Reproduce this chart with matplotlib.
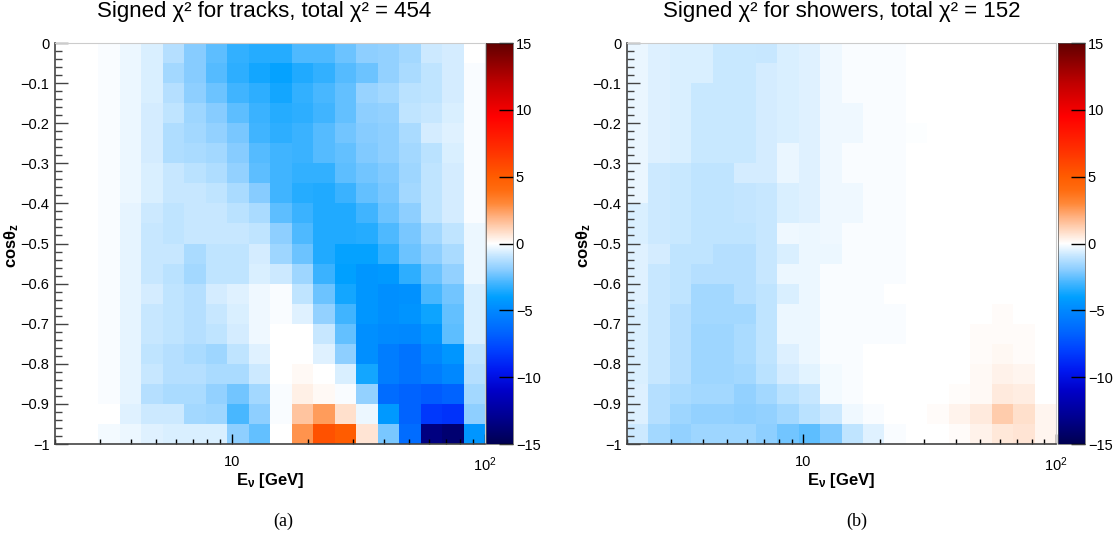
import numpy as np
import matplotlib
matplotlib.use("Agg")
import matplotlib.pyplot as plt
import matplotlib.ticker as ticker
from matplotlib.colors import LinearSegmentedColormap, Normalize

plt.rcParams["font.family"] = ["Liberation Sans", "DejaVu Sans"]
plt.rcParams["mathtext.fontset"] = "custom"
plt.rcParams["mathtext.rm"] = "Liberation Sans"
plt.rcParams["mathtext.it"] = "Liberation Sans:italic"
plt.rcParams["mathtext.bf"] = "Liberation Sans:bold"

# binning: 20 log bins in E (2-100 GeV), 20 bins in cos(theta_z) from 0 down to -1
E_EDGES = np.logspace(np.log10(2.0), 2.0, 21)
COS_EDGES = np.linspace(0.0, -1.0, 21)

TITLES = ["Signed \u03c7\u00b2 for tracks, total \u03c7\u00b2 = 454",
          "Signed \u03c7\u00b2 for showers, total \u03c7\u00b2 = 152"]
CAPTIONS = ["(a)", "(b)"]
CBAR_TICKS = [-15, -10, -5, 0, 5, 10, 15]

# signed chi2 per bin, rows from cos=0 (top) to cos=-1 (bottom)
TRACKS = [
    [0, 0, -0.1, -0.3, -0.6, -1.2, -2.0, -2.6, -3.2, -3.4, -3.4, -2.8, -2.8, -2.4, -1.9, -1.8, -1.5, -0.8, -0.7, 0],
    [0, 0, -0.1, -0.3, -0.6, -1.5, -2.0, -2.7, -3.3, -3.7, -3.9, -3.5, -3.2, -2.7, -2.4, -1.8, -1.4, -1.0, -0.7, -0.1],
    [0, 0, -0.1, -0.3, -0.6, -1.2, -1.9, -2.4, -3.0, -3.3, -3.7, -3.2, -2.9, -2.5, -1.7, -1.5, -1.1, -1.0, -0.7, -0.1],
    [0, 0, -0.1, -0.3, -0.7, -1.0, -1.6, -2.0, -2.6, -3.1, -3.4, -3.3, -3.0, -2.5, -1.9, -1.8, -1.0, -0.9, -0.6, -0.1],
    [0, 0, -0.1, -0.3, -0.7, -1.3, -1.5, -1.8, -2.2, -3.0, -3.3, -3.1, -2.7, -2.3, -2.0, -1.9, -1.4, -0.7, -0.5, -0.1],
    [0, 0, -0.1, -0.3, -0.7, -1.3, -1.4, -1.5, -2.0, -2.7, -3.0, -3.1, -2.7, -2.5, -2.1, -1.9, -1.5, -1.1, -0.6, -0.1],
    [0, 0, -0.1, -0.3, -0.6, -0.9, -1.1, -1.3, -1.8, -2.6, -3.0, -3.2, -3.2, -2.6, -2.3, -2.1, -1.6, -1.0, -0.7, -0.1],
    [0, 0, -0.1, -0.3, -0.6, -0.9, -0.9, -1.0, -1.4, -2.0, -3.0, -3.4, -3.5, -3.1, -2.5, -2.2, -1.5, -1.0, -0.7, -0.1],
    [0, 0, -0.1, -0.4, -0.8, -1.0, -0.9, -0.9, -1.1, -1.4, -2.6, -3.1, -3.5, -3.5, -3.0, -2.4, -1.9, -1.0, -0.7, -0.1],
    [0, 0, -0.1, -0.4, -0.9, -1.0, -0.9, -0.9, -0.9, -1.0, -1.9, -2.8, -3.5, -3.5, -3.4, -2.8, -2.2, -1.5, -1.0, -0.3],
    [0, 0, -0.1, -0.4, -0.9, -0.9, -1.4, -1.0, -1.0, -0.7, -1.6, -2.4, -3.5, -3.9, -3.9, -3.2, -2.4, -1.9, -1.4, -0.3],
    [0, 0, -0.1, -0.4, -0.9, -1.1, -1.5, -1.0, -1.0, -0.6, -0.8, -1.6, -3.1, -4.0, -4.4, -4.3, -3.3, -2.4, -1.8, -0.3],
    [0, 0, -0.1, -0.4, -0.7, -1.0, -1.2, -0.7, -0.5, -0.25, -0.1, -1.0, -2.4, -3.7, -4.4, -4.7, -4.6, -2.9, -2.3, -0.6],
    [0, 0, -0.1, -0.4, -0.9, -1.0, -1.2, -0.9, -0.6, -0.25, -0.1, -0.5, -1.8, -3.0, -4.4, -4.7, -4.5, -3.8, -2.5, -0.6],
    [0, 0, -0.1, -0.4, -0.9, -1.0, -1.2, -1.0, -0.7, -0.25, 0, 0, -0.9, -2.5, -4.7, -4.9, -5.0, -4.4, -2.6, -0.6],
    [0, 0, -0.1, -0.4, -1.0, -1.2, -1.4, -1.6, -1.0, -0.5, 0, 0, -0.5, -1.9, -4.7, -5.5, -6.0, -5.0, -4.4, -1.0],
    [0, 0, -0.1, -0.4, -0.9, -1.2, -1.2, -1.4, -1.4, -0.8, 0, 0.15, 0, -0.6, -3.7, -5.5, -6.0, -5.5, -5.0, -1.2],
    [0, 0, -0.1, -0.4, -1.2, -1.4, -1.4, -1.8, -2.3, -1.5, -0.1, 0.4, 0.15, -0.1, -1.8, -6.3, -6.7, -7.0, -6.7, -1.5],
    [0, 0, 0, -0.5, -0.8, -0.8, -1.5, -1.6, -2.9, -1.9, -0.1, 1.5, 2.5, 0.8, -0.3, -4.3, -6.7, -8.3, -8.5, -1.9],
    [0, 0, -0.2, -0.3, -0.5, -0.6, -0.6, -0.6, -1.9, -2.5, 0, 2.7, 5.5, 5.0, 0.7, -2.2, -6.3, -13.5, -14.0, -4.4],
]

SHOWERS = [
    [-0.35, -0.55, -0.6, -0.6, -0.85, -0.85, -0.9, -0.6, -0.5, -0.25, -0.1, -0.1, -0.1, 0, 0, 0, 0, 0, 0, 0],
    [-0.35, -0.55, -0.6, -0.6, -0.85, -0.85, -0.7, -0.6, -0.5, -0.25, -0.1, -0.1, -0.1, 0, 0, 0, 0, 0, 0, 0],
    [-0.35, -0.55, -0.6, -0.85, -0.85, -0.85, -0.7, -0.6, -0.5, -0.25, -0.1, -0.1, -0.1, 0, 0, 0, 0, 0, 0, 0],
    [-0.35, -0.55, -0.6, -0.85, -0.85, -0.85, -0.7, -0.6, -0.5, -0.25, -0.25, -0.1, -0.1, 0, 0, 0, 0, 0, 0, 0],
    [-0.35, -0.55, -0.6, -0.85, -0.85, -0.85, -0.7, -0.6, -0.5, -0.25, -0.25, -0.1, -0.1, -0.05, 0, 0, 0, 0, 0, 0],
    [-0.35, -0.55, -0.6, -0.85, -0.85, -0.85, -0.7, -0.35, -0.5, -0.25, -0.1, -0.1, -0.1, 0, 0, 0, 0, 0, 0, 0],
    [-0.35, -0.8, -0.85, -1.0, -1.0, -0.7, -0.7, -0.35, -0.5, -0.25, -0.1, -0.1, -0.1, 0, 0, 0, 0, 0, 0, 0],
    [-0.35, -0.8, -0.85, -1.0, -1.0, -0.95, -0.9, -0.6, -0.5, -0.25, -0.25, -0.1, -0.1, 0, 0, 0, 0, 0, 0, 0],
    [-0.6, -0.8, -0.85, -1.0, -1.0, -0.95, -0.9, -0.6, -0.5, -0.25, -0.25, -0.1, -0.1, 0, 0, 0, 0, 0, 0, 0],
    [-0.6, -0.8, -0.85, -1.0, -1.0, -1.0, -0.9, -0.25, -0.3, -0.25, -0.1, -0.1, -0.1, 0, 0, 0, 0, 0, 0, 0],
    [-0.5, -0.7, -1.0, -1.0, -1.2, -1.2, -0.9, -0.6, -0.3, -0.3, -0.1, -0.1, -0.1, 0, 0, 0, 0, 0, 0, 0],
    [-0.5, -0.9, -1.0, -1.2, -1.2, -1.2, -0.9, -0.3, -0.3, -0.1, -0.1, -0.1, -0.1, 0, 0, 0, 0, 0, 0, 0],
    [-0.5, -0.9, -1.0, -1.5, -1.5, -1.2, -1.0, -0.6, -0.3, -0.1, -0.1, -0.1, 0, 0, 0, 0, 0, 0, 0, 0],
    [-0.6, -0.9, -1.2, -1.5, -1.5, -1.5, -1.0, -0.3, -0.3, -0.1, -0.1, -0.1, -0.1, 0, 0, 0, 0, 0.1, 0, 0],
    [-0.6, -0.9, -1.2, -1.6, -1.6, -1.4, -1.0, -0.3, -0.3, -0.1, -0.1, -0.1, -0.1, 0, 0, 0, 0.1, 0.1, 0.1, 0],
    [-0.6, -0.9, -1.2, -1.6, -1.6, -1.4, -1.0, -0.55, -0.3, -0.1, -0.1, 0, 0, 0, 0, 0, 0.1, 0.2, 0.1, 0],
    [-0.6, -0.9, -1.2, -1.6, -1.6, -1.5, -1.1, -0.7, -0.45, -0.2, -0.1, 0, 0, 0, 0, 0, 0.15, 0.35, 0.25, 0],
    [-0.55, -1.2, -1.4, -1.5, -1.5, -1.8, -1.5, -1.1, -0.9, -0.2, -0.1, 0, 0, 0, 0, 0.08, 0.15, 0.55, 0.45, 0],
    [-0.55, -1.2, -1.6, -1.8, -1.8, -1.9, -1.8, -1.5, -1.1, -0.8, -0.25, -0.1, 0, 0, 0.1, 0.3, 0.55, 1.3, 0.8, 0.25],
    [-0.8, -1.5, -1.8, -1.6, -1.6, -1.6, -1.9, -2.3, -2.6, -2.1, -1.0, -0.5, -0.1, 0, 0, 0.1, 0.35, 0.6, 0.7, 0.25],
]

# diverging palette: navy - blue - white - orange - dark red
anchors = [
    (-15, "#000050"), (-13, "#000090"), (-11, "#0000c8"), (-9.5, "#0018f0"),
    (-8, "#0040ff"), (-6.5, "#0068ff"), (-5, "#0088ff"), (-4, "#00a0ff"),
    (-3, "#40b4ff"), (-2, "#88ccff"), (-1, "#c0e4ff"), (0, "#ffffff"),
    (1, "#ffd8c0"), (2, "#ffb080"), (3, "#ff8838"), (4, "#ff6c10"),
    (5, "#ff5c00"), (7, "#ff3000"), (9.5, "#ff0000"), (12, "#c00000"),
    (15, "#600000"),
]
cmap = LinearSegmentedColormap.from_list(
    "signed", [((v + 15) / 30.0, c) for v, c in anchors], N=1024)
norm = Normalize(vmin=-15, vmax=15)

fig = plt.figure(figsize=(11.2, 5.39), dpi=100)
fig.patch.set_facecolor("white")

W, H = 1120.0, 539.0
panels = [
    {"ax": (55, 43, 430, 401), "cax": (486, 43, 27, 401), "title_x": 264, "cap_x": 283},
    {"ax": (627, 43, 429, 401), "cax": (1058, 43, 27, 401), "title_x": 842, "cap_x": 857},
]


def px_rect(x, y, w, h):
    return [x / W, 1 - (y + h) / H, w / W, h / H]


def ylab(v, pos):
    if abs(v) < 1e-9:
        return "0"
    if abs(v + 1) < 1e-9:
        return "\u22121"
    return f"\u2212{abs(v):.1f}"


for i, (data, p) in enumerate(zip([TRACKS, SHOWERS], panels)):
    ax = fig.add_axes(px_rect(*p["ax"]))
    cax = fig.add_axes(px_rect(*p["cax"]))

    # empty bins (zero) are left undrawn, like ROOT does
    z = np.ma.masked_equal(np.array(data, dtype=float), 0.0)
    mesh = ax.pcolormesh(E_EDGES, COS_EDGES, z, cmap=cmap, norm=norm)
    ax.set_facecolor("white")
    ax.set_xscale("log")
    ax.set_xlim(2.0, 100.0)
    ax.set_ylim(-1.0, 0.0)

    ax.set_xticks([10, 100])
    ax.set_xticklabels(["10", "10$^{2}$"])
    ax.xaxis.set_minor_locator(ticker.LogLocator(base=10, subs=np.arange(2, 10)))
    ax.xaxis.set_minor_formatter(ticker.NullFormatter())
    ax.set_yticks(np.arange(-1.0, 0.01, 0.1))
    ax.yaxis.set_major_formatter(ticker.FuncFormatter(ylab))
    ax.yaxis.set_minor_locator(ticker.MultipleLocator(0.02))

    ax.tick_params(axis="y", which="major", direction="in", length=9.5, width=1.0,
                   labelsize=10.5, pad=4, color="#444444")
    ax.tick_params(axis="y", which="minor", direction="in", length=5, width=1.0, color="#444444")
    ax.tick_params(axis="x", which="major", direction="in", length=7, width=1.0,
                   labelsize=10.5, pad=8, color="black")
    ax.tick_params(axis="x", which="minor", direction="in", length=3.6, width=1.0, color="black")

    ax.spines["left"].set_color("#444444")
    ax.spines["bottom"].set_color("#444444")
    ax.spines["left"].set_linewidth(1.2)
    ax.spines["bottom"].set_linewidth(1.2)
    ax.spines["top"].set_color("#cccccc")
    ax.spines["right"].set_color("#cccccc")
    ax.spines["top"].set_linewidth(0.8)
    ax.spines["right"].set_linewidth(0.8)

    cb = fig.colorbar(mesh, cax=cax, ticks=CBAR_TICKS)
    cb.outline.set_linewidth(0.5)
    cb.outline.set_edgecolor("#555555")
    cax.tick_params(direction="in", length=10, width=1.0, labelsize=10.5, pad=2)
    cax.set_yticklabels([f"{t}".replace("-", "\u2212") for t in CBAR_TICKS])

    cx = (p["ax"][0] + p["ax"][2] / 2.0) / W
    fig.text(cx, 1 - 480 / H, r"$\mathbf{E_{\nu}}$ [GeV]", ha="center", va="center",
             fontsize=12, fontweight="bold")
    fig.text((p["ax"][0] - 43) / W, 1 - 245 / H, r"$\mathbf{cos\theta_{z}}$", ha="center",
             va="center", rotation=90, fontsize=12, fontweight="bold")
    fig.text(p["title_x"] / W, 1 - 17 / H, TITLES[i], ha="center", va="baseline", fontsize=16)
    fig.text(p["cap_x"] / W, 1 - 521 / H, CAPTIONS[i], ha="center", va="center",
             fontsize=13, family=["Liberation Serif", "DejaVu Serif"])

fig.savefig("out.png", dpi=100, facecolor="white")
